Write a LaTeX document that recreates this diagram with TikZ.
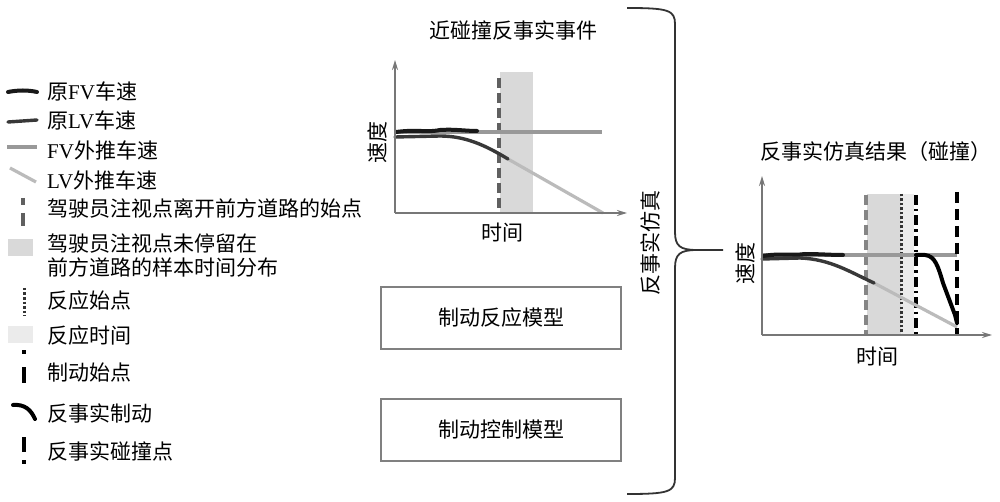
\documentclass[tikz,border=0pt]{standalone}
\usepackage{fontspec}
\setmainfont{Liberation Serif}
\newfontfamily\cjk{Noto Sans CJK SC}
\usetikzlibrary{arrows.meta}
\definecolor{axisgray}{HTML}{777777}
\definecolor{fvextc}{HTML}{999999}
\definecolor{lvextc}{HTML}{BBBBBB}
\definecolor{gazec}{HTML}{606060}
\definecolor{gazefill}{HTML}{D9D9D9}
\definecolor{reactfill}{HTML}{EBEBEB}
\definecolor{boxc}{HTML}{808080}
\definecolor{bracec}{HTML}{333333}
\begin{document}
\begin{tikzpicture}[x=1pt,y=-1pt,
  txt/.style={font=\cjk\fontsize{21}{24}\selectfont, inner sep=0pt, text=black},
  axisline/.style={draw=axisgray, line width=1.8pt, -{Stealth[length=10pt,width=6pt]}},
  fvorig/.style={draw=black!90, line width=4pt, line cap=round},
  lvorig/.style={draw=black!78, line width=3.4pt, line cap=round},
  fvext/.style={draw=fvextc, line width=3.2pt},
  lvext/.style={draw=lvextc, line width=3.2pt},
  gaze/.style={draw=gazec, line width=3.5pt, dash pattern=on 10pt off 5pt},
  react/.style={draw=black!80, line width=3pt, dash pattern=on 2.5pt off 2pt},
  brakestart/.style={draw=black, line width=3.6pt, dash pattern=on 10pt off 4pt on 2.5pt off 4pt},
  crash/.style={draw=black, line width=4pt, dash pattern=on 11pt off 6pt},
  brake/.style={draw=black, line width=4pt, line cap=round},
  modelbox/.style={draw=boxc, line width=1.6pt, minimum width=240pt, minimum height=62pt, inner sep=0pt, font=\cjk\fontsize{21}{24}\selectfont},
  bracepath/.style={draw=bracec, line width=1.8pt}
]
\useasboundingbox (0,0) rectangle (1000,502);
\fill[white] (0,0) rectangle (1000,502);

% ---------------- legend ----------------
\draw[fvorig] (8,92) .. controls (18,90) and (28,90) .. (37,92);
\node[txt, anchor=west] (l1) at (47,91) {原{\rmfamily FV}车速};
\draw[lvorig] (8,122) -- (37,120);
\node[txt, anchor=west] (l2) at (47,120) {原{\rmfamily LV}车速};
\draw[fvext] (7,147) -- (37,147);
\node[txt, anchor=west] (l3) at (47,150) {{\rmfamily FV}外推车速};
\draw[lvext] (10,168) -- (36,182);
\node[txt, anchor=west] (l4) at (47,180) {{\rmfamily LV}外推车速};
\draw[draw=gazec, line width=3.5pt, dash pattern=on 7pt off 8pt on 13pt off 8pt] (23,198) -- (23,226);
\node[txt, anchor=west] (l5) at (47,208) {驾驶员注视点离开前方道路的始点};
\fill[gazefill] (8,239) rectangle (33,256);
\node[txt, anchor=west, align=left] (l6) at (47,255) {驾驶员注视点未停留在\\前方道路的样本时间分布};
\draw[react] (24,288) -- (24,316);
\node[txt, anchor=west] (l7) at (47,301) {反应始点};
\fill[reactfill] (8,326) rectangle (33,343);
\node[txt, anchor=west] (l8) at (47,336) {反应时间};
\draw[draw=black, line width=3.6pt, dash pattern=on 4pt off 13pt on 16pt] (24,350) -- (24,383);
\node[txt, anchor=west] (l9) at (47,373) {制动始点};
\draw[brake] (13,405) .. controls (25,404) and (31,410) .. (35,419);
\node[txt, anchor=west] (l10) at (47,413) {反事实制动};
\draw[draw=black, line width=4pt, dash pattern=on 15pt off 8pt on 4pt] (24,437) -- (24,464);
\node[txt, anchor=west] (l11) at (47,451) {反事实碰撞点};

% ---------------- left chart ----------------
\node[txt] (t1) at (513,30) {近碰撞反事实事件};
\fill[gazefill] (500,72) rectangle (533,213);
\draw[gaze] (499,78) -- (499,213);
\draw[fvext] (395,132) -- (602,132);
\draw[lvext] (508,159) -- (603,213);
\draw[lvorig] (395,137) -- (440,136) .. controls (465,136) and (485,145) .. (508,159);
\draw[fvorig] (396,132) .. controls (420,129) and (425,133) .. (440,130) .. controls (455,129) and (465,131) .. (477,131);
\coordinate (o1) at (395,213);
\coordinate (y1) at (395,60);
\coordinate (x1) at (627,213);
\draw[axisline] (o1) -- (y1);
\draw[axisline] (o1) -- (x1);
\node[txt, rotate=90] (v1) at (377,143) {速度};
\node[txt] (h1) at (502,233) {时间};

% ---------------- model boxes ----------------
\node[modelbox] (m1) at (501,318) {制动反应模型};
\node[modelbox] (m2) at (501,430) {制动控制模型};

% ---------------- brace ----------------
\draw[bracepath] (627,8) .. controls (668,8) and (675,10) .. (675,24) -- (675,232)
   .. controls (675,246) and (680,250) .. (697,250) -- (723,250);
\draw[bracepath] (697,250) .. controls (680,250) and (675,254) .. (675,268) -- (675,478)
   .. controls (675,492) and (668,494) .. (627,494);
\node[txt, rotate=90] (sim) at (650,243) {反事实仿真};

% ---------------- right chart ----------------
\node[txt] (t2) at (876,152) {反事实仿真结果（碰撞）};
\fill[gazefill] (867,194) rectangle (901,335);
\fill[reactfill] (901,194) rectangle (914,335);
\draw[draw=axisgray!90, line width=3.5pt, dash pattern=on 10pt off 5pt] (866,195) -- (866,335);
\draw[react] (901,194) -- (901,335);
\draw[brakestart] (916,195) -- (916,335);
\draw[fvext] (762,255) -- (957,255);
\draw[lvext] (874,283) -- (957,327);
\draw[crash] (957,192) -- (957,335);
\draw[lvorig] (762,259) -- (800,258) .. controls (830,259) and (850,272) .. (874,283);
\draw[fvorig] (763,256) .. controls (780,253) and (790,256) .. (805,254) .. controls (820,254) and (830,255) .. (843,255);
\draw[brake] (916,255) -- (925,255) .. controls (935,256) and (938,266) .. (943,283) -- (955,315) -- (957,323);
\coordinate (o2) at (762,335);
\coordinate (y2) at (762,176);
\coordinate (x2) at (992,335);
\draw[axisline] (o2) -- (y2);
\draw[axisline] (o2) -- (x2);
\node[txt, rotate=90] (v2) at (745,263) {速度};
\node[txt] (h2) at (877,357) {时间};
\end{tikzpicture}
\end{document}
